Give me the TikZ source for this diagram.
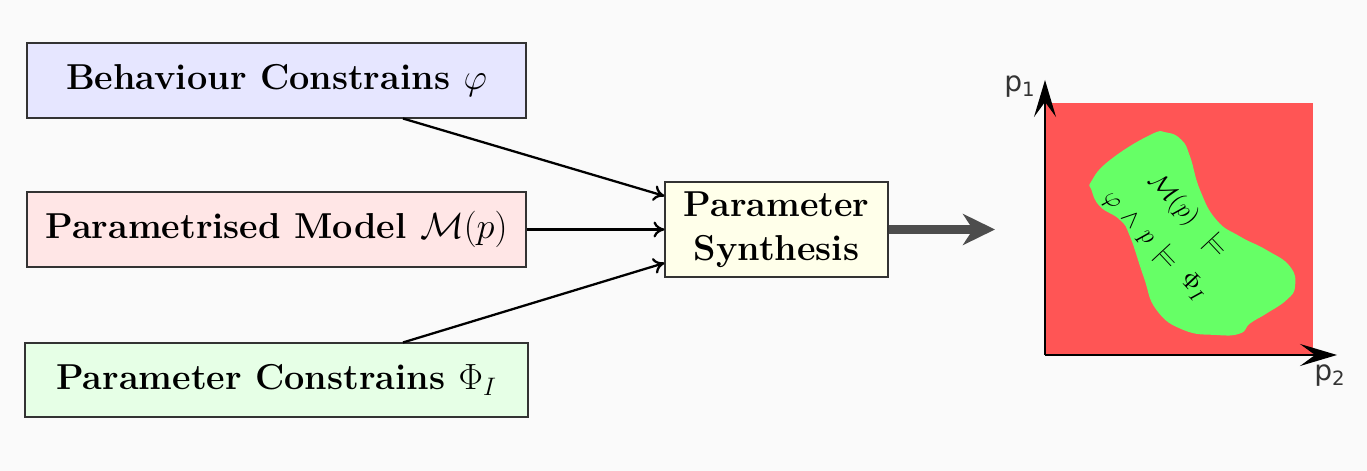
\documentclass[tikz,border=0pt]{standalone}
\usepackage{amsmath,amssymb}
\usepackage{fontspec}
\newfontfamily\axisfont{DejaVu Sans}
\usetikzlibrary{arrows.meta}

\definecolor{bggray}{HTML}{FAFAFA}
\definecolor{behavblue}{HTML}{E6E6FF}
\definecolor{modelpink}{HTML}{FFE6E6}
\definecolor{paramgreen}{HTML}{E6FFE6}
\definecolor{synthyellow}{HTML}{FFFFEA}
\definecolor{regionred}{HTML}{FF5555}
\definecolor{regiongreen}{HTML}{66FF66}
\definecolor{arrowgray}{HTML}{4D4D4D}

\begin{document}
\begin{tikzpicture}[
    block/.style={rectangle, draw=black!80, line width=0.6pt, minimum width=9.98cm, minimum height=1.5cm, font=\fontsize{20.5}{25}\selectfont\bfseries},
    axis/.style={-{Stealth[length=0.74cm, width=0.44cm, inset=0.3cm]}, line width=1.4pt},
    >={To[length=0.22cm, width=0.32cm]}
]
\fill[bggray] (0,0) rectangle (27.34,9.42);

\node[block, fill=behavblue] (behav) at (5.53,7.81) {Behaviour Constrains $\varphi$};
\node[block, fill=modelpink] (model) at (5.53,4.83) {Parametrised Model $\mathcal{M}(p)$};
\node[block, fill=paramgreen, minimum width=10.06cm, minimum height=1.48cm] (param) at (5.53,1.82) {Parameter Constrains $\Phi_I$};
\node[block, fill=synthyellow, minimum width=4.46cm, minimum height=1.9cm, align=center] (synth) at (15.53,4.83) {Parameter\\Synthesis};

\draw[->, line width=1.3pt] ([xshift=2.53cm]behav.south) -- ([yshift=0.67cm]synth.west);
\draw[->, line width=1.3pt] (model) -- (synth);
\draw[->, line width=1.3pt] ([xshift=2.53cm]param.north) -- ([yshift=-0.67cm]synth.west);

% result: parameter space
\coordinate (out) at (19.9,4.83);
\draw[-{Stealth[length=0.64cm, width=0.62cm, inset=0.2cm]}, line width=0.18cm, arrowgray] (synth) -- (out);

\fill[regionred] (20.9,2.32) rectangle (26.26,7.36);
\fill[regiongreen] plot[smooth cycle, tension=0.8] coordinates {
    (21.83,5.80) (22.2,6.22) (23.0,6.72) (23.33,6.77) (23.63,6.62) (23.8,6.29)
    (24.0,5.62) (24.33,5.02) (24.8,4.69) (25.33,4.42) (25.8,4.09) (25.9,3.69)
    (25.73,3.42) (25.33,3.15) (25.0,2.95) (24.8,2.75) (24.33,2.72) (23.67,2.82)
    (23.13,3.22) (22.87,3.89) (22.6,4.69) (22.4,5.02) (22.0,5.29) (21.83,5.62)};
\node[rotate=-47, align=center, font=\fontsize{15}{18}\selectfont] (sat) at (23.43,4.81) {$\mathcal{M}(p)\;\;\models$\\[0.25cm]$\varphi\,\wedge\,p\,\models\;\Phi_I$};

\coordinate (origin) at (20.9,2.32);
\coordinate (ytip) at (20.9,7.82);
\coordinate (xtip) at (26.74,2.32);
\draw[axis] (origin) -- (ytip);
\draw[axis] (origin) -- (xtip);
\node[font=\axisfont\fontsize{16}{19}\selectfont, text=black!80] (p1) at (20.4,7.68) {p\textsubscript{1}};
\node[font=\axisfont\fontsize{16}{19}\selectfont, text=black!80] (p2) at (26.6,1.9) {p\textsubscript{2}};
\end{tikzpicture}
\end{document}
